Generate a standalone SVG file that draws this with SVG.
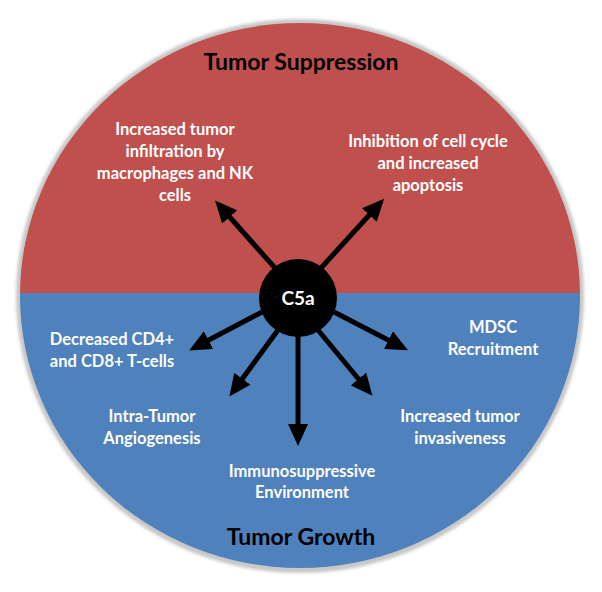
<svg xmlns="http://www.w3.org/2000/svg" width="602" height="592" viewBox="0 0 602 592">
  <defs>
    <style>
      .lbl { font-family: Lato, "Open Sans", "Liberation Sans", sans-serif; font-weight: bold; fill: #ffffff; font-size: 16.5px; text-anchor: middle; }
      .title { font-family: Lato, "Open Sans", "Liberation Sans", sans-serif; font-weight: bold; fill: #000000; font-size: 23px; text-anchor: middle; }
      .conn { stroke: #000000; stroke-width: 5; fill: none; marker-end: url(#arrow); }
    </style>
    <marker id="arrow" markerUnits="userSpaceOnUse" markerWidth="22" markerHeight="20" refX="4" refY="10" orient="auto">
      <path d="M0,0 L22,10 L0,20 Z" fill="#000000"/>
    </marker>
    <clipPath id="disc">
      <ellipse cx="300" cy="295.5" rx="280" ry="272.5"/>
    </clipPath>
    <filter id="soft" x="-10%" y="-10%" width="120%" height="120%">
      <feGaussianBlur stdDeviation="1.5"/>
    </filter>
  </defs>

  <rect width="602" height="592" fill="#ffffff"/>

  <g id="background">
    <ellipse cx="300" cy="296" rx="284" ry="277" fill="#c8c8c8" filter="url(#soft)"/>
    <g clip-path="url(#disc)">
      <rect x="0" y="0" width="602" height="293" fill="#C0504D"/>
      <rect x="0" y="293" width="602" height="300" fill="#4F81BD"/>
    </g>
  </g>

  <g id="connectors">
    <line class="conn" x1="275" y1="268" x2="227" y2="214"/>
    <line class="conn" x1="321" y1="268" x2="372" y2="212"/>
    <line class="conn" x1="262" y1="312" x2="205" y2="342"/>
    <line class="conn" x1="278" y1="330" x2="240" y2="382"/>
    <line class="conn" x1="298" y1="335" x2="298" y2="428"/>
    <line class="conn" x1="318" y1="330" x2="361" y2="382"/>
    <line class="conn" x1="334" y1="312" x2="392" y2="342"/>
  </g>

  <g id="node-title-suppression">
    <text class="title" x="301" y="70">Tumor Suppression</text>
  </g>
  <g id="node-title-growth">
    <text class="title" x="301" y="545">Tumor Growth</text>
  </g>

  <g id="node-c5a">
    <circle cx="298" cy="298" r="39" fill="#000000"/>
    <text x="298" y="305" font-family="Lato, 'Open Sans', 'Liberation Sans', sans-serif" font-weight="bold" font-size="19" fill="#ffffff" text-anchor="middle">C5a</text>
  </g>

  <g id="node-infiltration">
    <text class="lbl" x="175" y="135">Increased tumor</text>
    <text class="lbl" x="175" y="157">infiltration by</text>
    <text class="lbl" x="175" y="179">macrophages and NK</text>
    <text class="lbl" x="175" y="201">cells</text>
  </g>
  <g id="node-cellcycle">
    <text class="lbl" x="428" y="147">Inhibition of cell cycle</text>
    <text class="lbl" x="428" y="169">and increased</text>
    <text class="lbl" x="428" y="191">apoptosis</text>
  </g>
  <g id="node-tcells">
    <text class="lbl" x="112" y="345">Decreased CD4+</text>
    <text class="lbl" x="112" y="367">and CD8+ T-cells</text>
  </g>
  <g id="node-mdsc">
    <text class="lbl" x="493" y="333">MDSC</text>
    <text class="lbl" x="493" y="355">Recruitment</text>
  </g>
  <g id="node-angiogenesis">
    <text class="lbl" x="152" y="422">Intra-Tumor</text>
    <text class="lbl" x="152" y="444">Angiogenesis</text>
  </g>
  <g id="node-invasiveness">
    <text class="lbl" x="460" y="422">Increased tumor</text>
    <text class="lbl" x="460" y="444">invasiveness</text>
  </g>
  <g id="node-immuno">
    <text class="lbl" x="302" y="477">Immunosuppressive</text>
    <text class="lbl" x="302" y="498">Environment</text>
  </g>
</svg>
